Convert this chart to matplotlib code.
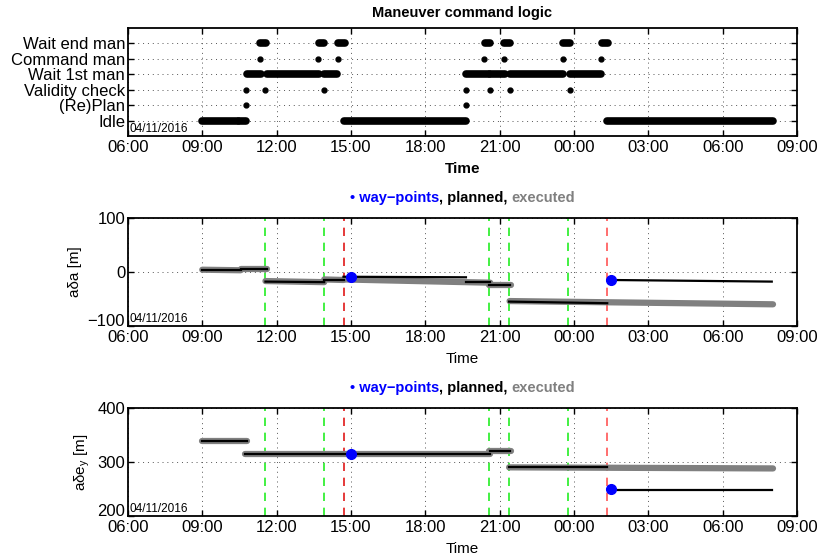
import datetime as dt
import matplotlib
matplotlib.use('Agg')
import matplotlib.pyplot as plt
import matplotlib.dates as mdates
import matplotlib.transforms as mtransforms
from matplotlib.offsetbox import TextArea, HPacker, AnchoredOffsetbox

plt.rcParams['font.family'] = ['Liberation Sans', 'DejaVu Sans']

# time in hours from 04/11/2016 00:00
day0 = dt.datetime(2016, 11, 4)


def t(h):
    return day0 + dt.timedelta(hours=h)


# --- maneuver logic states ---
states = ['Idle', '(Re)Plan', 'Validity check', 'Wait 1st man', 'Command man', 'Wait end man']

idle_spans = [(9.0, 10.45), (10.5, 10.75), (14.72, 19.63), (25.33, 32.02)]
replan_pts = [10.76, 19.63]
check_pts = [10.76, 11.55, 13.9, 19.63, 20.62, 21.4, 23.82]
wait1_spans = [(10.8, 11.35), (11.6, 13.7), (13.92, 14.45),
               (19.65, 20.55), (20.62, 21.2), (21.42, 23.56), (23.84, 25.1)]
command_pts = [11.31, 13.68, 14.46, 20.37, 21.17, 23.55, 25.1]
waitend_spans = [(11.33, 11.58), (13.7, 13.93), (14.48, 14.75),
                 (20.39, 20.6), (21.19, 21.42), (23.57, 23.84), (25.12, 25.38)]

# maneuver events: green = executed, red = re-plan
green_lines = [11.55, 13.92, 20.58, 21.38, 23.76]
red_lines = [14.7, 25.34]

# --- relative mean argument of latitude (t0, t1, y0, y1) ---
ada_planned = [(9.0, 10.55, 4, 4), (10.55, 11.6, 5, 5), (11.55, 13.92, -18, -19),
               (13.92, 14.7, -15, -15), (14.7, 19.64, -9, -10), (19.64, 20.62, -18, -18),
               (20.58, 21.42, -25, -25), (21.38, 25.34, -55, -58), (25.48, 31.98, -15, -18)]
ada_executed = [(9.0, 10.55, 4, 3), (10.55, 11.6, 5, 5), (11.55, 13.92, -17, -19),
                (13.92, 14.7, -14, -15), (14.7, 20.62, -14, -20),
                (20.58, 21.45, -25, -25), (21.4, 32.03, -54, -60)]
ada_wp_t = [15.0, 25.48]
ada_wp_y = [-9, -15]

# --- relative eccentricity vector, y component ---
dey_planned = [(9.0, 10.79, 339, 339), (10.73, 20.6, 315, 315), (20.6, 21.42, 321, 321),
               (21.38, 25.34, 290, 290), (25.48, 31.98, 248, 248)]
dey_executed = [(9.0, 10.79, 339, 339), (10.73, 20.6, 315, 315), (20.55, 21.45, 321, 321),
                (21.38, 32.03, 290, 288)]
dey_wp_t = [15.0, 25.48]
dey_wp_y = [315, 250]

xlim = (6.0, 33.0)
xticks = list(range(6, 34, 3))

fig = plt.figure(figsize=(8.2, 5.6), dpi=100)
ax1 = fig.add_axes([0.156, 0.757, 0.816, 0.193])
ax2 = fig.add_axes([0.156, 0.418, 0.816, 0.193])
ax3 = fig.add_axes([0.156, 0.0786, 0.816, 0.193])


def style_axis(ax, bold_label=False):
    ax.set_xlim(t(xlim[0]), t(xlim[1]))
    ax.set_xticks([t(h) for h in xticks])
    ax.xaxis.set_major_formatter(mdates.DateFormatter('%H:%M'))
    ax.tick_params(direction='in', top=True, right=True, labelsize=12, pad=2,
                   length=4, width=1)
    ax.tick_params(axis='x', pad=3)
    ax.grid(True, linestyle=(0, (1, 4)), color='#555555', linewidth=0.7)
    for s in ax.spines.values():
        s.set_linewidth(1.3)
    ax.set_xlabel('Time', fontsize=11, fontweight='bold' if bold_label else 'normal',
                  labelpad=5)
    ax.text(0.002, 0.01, '04/11/2016', transform=ax.transAxes, fontsize=8.5,
            ha='left', va='bottom')


def lift_lowest_ylabel(ax):
    # keep the lowest y value clear of the first time label
    lab = ax.get_yticklabels()[0]
    lab.set_transform(lab.get_transform() +
                      mtransforms.ScaledTranslation(0, 4 / 72, fig.dpi_scale_trans))


# top: state timeline
rows = {name: i for i, name in enumerate(states)}
for spans, name in [(idle_spans, 'Idle'), (wait1_spans, 'Wait 1st man'),
                    (waitend_spans, 'Wait end man')]:
    for a, b in spans:
        ax1.plot([t(a), t(b)], [rows[name]] * 2, color='black', lw=5.5,
                 solid_capstyle='round')
for pts, name in [(replan_pts, '(Re)Plan'), (check_pts, 'Validity check'),
                  (command_pts, 'Command man')]:
    ax1.plot([t(h) for h in pts], [rows[name]] * len(pts), 'o', color='black',
             ms=3.5, ls='none')
ax1.set_ylim(-1, 6)
ax1.set_yticks(range(len(states)))
ax1.set_yticklabels(states)
style_axis(ax1, bold_label=True)
ax1.set_title('Maneuver command logic', fontsize=10.5, fontweight='bold', pad=8)


def colored_title(ax):
    parts = [TextArea('\u2022 way\u2212points', textprops=dict(color='blue', fontsize=10.5, fontweight='bold')),
             TextArea(', planned, ', textprops=dict(color='black', fontsize=10.5, fontweight='bold')),
             TextArea('executed', textprops=dict(color='gray', fontsize=10.5, fontweight='bold'))]
    box = HPacker(children=parts, align='baseline', pad=0, sep=0)
    anchored = AnchoredOffsetbox(loc='lower center', child=box, pad=0, frameon=False,
                                 bbox_to_anchor=(0.5, 1.0), bbox_transform=ax.transAxes,
                                 borderpad=0.95)
    ax.add_artist(anchored)


def draw_tracks(ax, planned, executed, wp_t, wp_y):
    for h in green_lines:
        ax.axvline(t(h), color='#22ee22', ls=(0, (5, 4)), lw=1.2, zorder=1)
    ax.axvline(t(red_lines[0]), color='#e01818', ls=(0, (5, 4)), lw=1.2, zorder=1)
    ax.axvline(t(red_lines[1]), color='#ff5555', ls=(0, (5, 4)), lw=1.2, zorder=1)
    for a, b, y0, y1 in executed:
        ax.plot([t(a), t(b)], [y0, y1], color='#808080', lw=4.5, solid_capstyle='round', zorder=2)
    for a, b, y0, y1 in planned:
        ax.plot([t(a), t(b)], [y0, y1], color='black', lw=1.6, zorder=3)
    ax.plot([t(h) for h in wp_t], wp_y, 'o', color='blue', ms=7, ls='none', zorder=4)
    colored_title(ax)


draw_tracks(ax2, ada_planned, ada_executed, ada_wp_t, ada_wp_y)
ax2.set_ylim(-100, 100)
ax2.set_yticks([-100, 0, 100])
ax2.set_ylabel('a\u03b4a [m]', fontsize=11)
style_axis(ax2)
lift_lowest_ylabel(ax2)

draw_tracks(ax3, dey_planned, dey_executed, dey_wp_t, dey_wp_y)
ax3.set_ylim(200, 400)
ax3.set_yticks([200, 300, 400])
ax3.set_ylabel('a\u03b4e$_\\mathregular{y}$ [m]', fontsize=11)
style_axis(ax3)
lift_lowest_ylabel(ax3)

fig.savefig('out.png', dpi=100)
